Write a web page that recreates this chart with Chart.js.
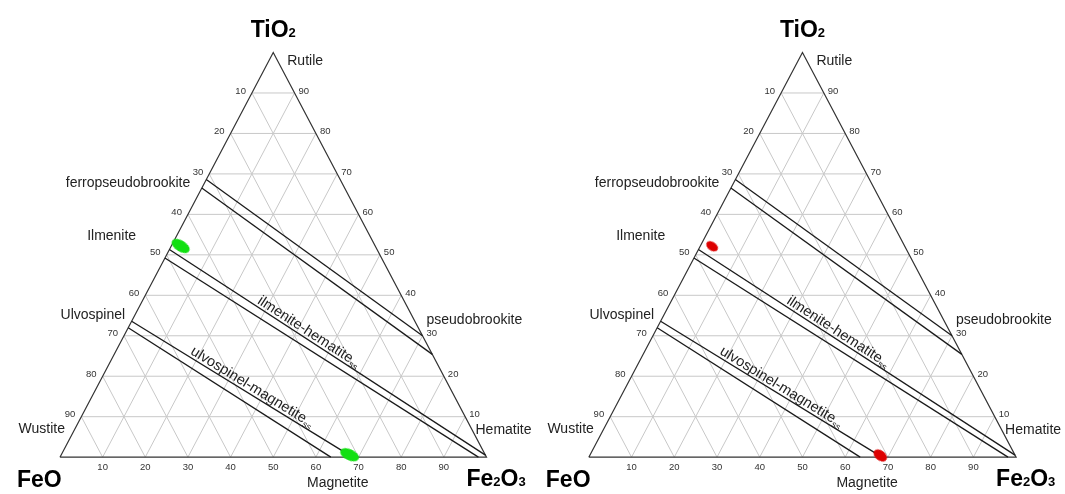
<!DOCTYPE html>
<html>
<head>
<meta charset="utf-8">
<title>FeO - Fe2O3 - TiO2</title>
<script src="https://cdn.jsdelivr.net/npm/chart.js@4.4.1/dist/chart.umd.min.js"></script>
<style>
  html, body { margin: 0; padding: 0; background: #fff; }
  #plots { position: relative; width: 1065px; height: 494px; overflow: hidden; }
  #plots canvas { position: absolute; top: 0; }
</style>
</head>
<body>
<div id="plots">
  <canvas id="leftPlot" width="545" height="494" style="left:0"></canvas>
  <canvas id="rightPlot" width="545" height="494" style="left:520px"></canvas>
</div>
<script>
const FONT = '"Liberation Sans", Arial, sans-serif';

// all compositions are [FeO, Fe2O3, TiO2] in wt%
const tickValues = [10, 20, 30, 40, 50, 60, 70, 80, 90];
const cornerNames = ['FeO', 'Fe2O3', 'TiO2'];

// solid-solution bands, each boundary runs between two edge compositions
const pseudobrookiteUpper = [[31.4, 0, 68.6], [0, 70.0, 30.0]];
const pseudobrookiteLower = [[33.5, 0, 66.5], [0, 74.6, 25.4]];
const ilmeniteUpper = [[48.7, 0, 51.3], [0, 99.5, 0.5]];
const ilmeniteLower = [[50.8, 0, 49.2], [1.9, 98.1, 0]];
const ulvospinelUpper = [[66.4, 0, 33.6], [31.4, 68.6, 0]];
const ulvospinelLower = [[68.0, 0, 32.0], [36.5, 63.5, 0]];

const mineralNames = ['Rutile', 'ferropseudobrookite', 'Ilmenite', 'Ulvospinel', 'Wustite', 'Magnetite', 'Hematite', 'pseudobrookite'];
const mineralComps = [[0, 0, 100], [31.4, 0, 68.6], [47.4, 0, 52.6], [64.3, 0, 35.7], [100, 0, 0], [31, 69, 0], [0, 100, 0], [0, 66.7, 33.3]];

// measured oxide grains (ilmenite, magnetite)
const leftSamples = [[45.6, 2.2, 52.2], [31.8, 67.6, 0.6]];
const rightSamples = [[45.1, 2.8, 52.1], [31.6, 68.0, 0.4]];

function toXY(c) {
  const sum = c[0] + c[1] + c[2];
  return { x: (c[1] + c[2] / 2) / sum, y: c[2] / sum };
}

// label placement relative to the mineral's composition: dx, dy, align
const mineralOffsets = {
  Rutile: [14, 12.5, 'left'],
  ferropseudobrookite: [-16, 7, 'right'],
  Ilmenite: [-36, -4, 'right'],
  Ulvospinel: [-11, 6.5, 'right'],
  Wustite: [5, -24.5, 'right'],
  Magnetite: [-16.5, 30, 'center'],
  Hematite: [-11, -23.5, 'left'],
  pseudobrookite: [11, 1.5, 'left']
};

function line(points, color, width, order) {
  return {
    data: points.map(toXY),
    showLine: true,
    borderColor: color,
    borderWidth: width,
    pointRadius: 0,
    fill: false,
    order: order
  };
}

function ellipseMarker(rx, ry, color) {
  const c = document.createElement('canvas');
  c.width = Math.ceil(rx * 2 + 2);
  c.height = Math.ceil(ry * 2 + 2);
  const g = c.getContext('2d');
  g.fillStyle = color;
  g.beginPath();
  g.ellipse(c.width / 2, c.height / 2, rx, ry, 0, 0, Math.PI * 2);
  g.fill();
  return c;
}

function drawFormula(ctx, text, x, y, align) {
  const parts = text.match(/[A-Za-z]+|\d+/g);
  const fontFor = s => /\d/.test(s) ? `bold 13px ${FONT}` : `bold 23px ${FONT}`;
  const widths = parts.map(s => { ctx.font = fontFor(s); return ctx.measureText(s).width; });
  const total = widths.reduce((a, b) => a + b, 0);
  let cx = align === 'center' ? x - total / 2 : x;
  ctx.textAlign = 'left';
  ctx.textBaseline = 'alphabetic';
  parts.forEach((s, i) => {
    ctx.font = fontFor(s);
    ctx.fillText(s, cx, y);
    cx += widths[i];
  });
}

function bandLabel(ctx, a, b, frac, text, sub) {
  const ang = Math.atan2(b.y - a.y, b.x - a.x);
  ctx.save();
  ctx.translate(a.x + (b.x - a.x) * frac, a.y + (b.y - a.y) * frac);
  ctx.rotate(ang);
  ctx.textAlign = 'left';
  ctx.textBaseline = 'alphabetic';
  ctx.font = `14.5px ${FONT}`;
  const w1 = ctx.measureText(text).width;
  ctx.font = `9px ${FONT}`;
  const w2 = ctx.measureText(sub).width;
  const start = -(w1 + w2) / 2;
  ctx.font = `14.5px ${FONT}`;
  ctx.fillText(text, start, -3);
  ctx.font = `9px ${FONT}`;
  ctx.fillText(sub, start + w1, 0);
  ctx.restore();
}

const labelPlugin = {
  id: 'ternaryLabels',
  afterDatasetsDraw(chart) {
    const ctx = chart.ctx;
    const px = c => {
      const p = toXY(c);
      return { x: chart.scales.x.getPixelForValue(p.x), y: chart.scales.y.getPixelForValue(p.y) };
    };
    ctx.save();

    // edge ticks: FeO on the left, TiO2 on the right, Fe2O3 along the base
    ctx.font = `9.5px ${FONT}`;
    ctx.fillStyle = '#333';
    ctx.textBaseline = 'middle';
    tickValues.forEach(v => {
      let p = px([v, 0, 100 - v]);
      ctx.textAlign = 'right';
      ctx.fillText(String(v), p.x - 6, p.y - 2);
      p = px([0, 100 - v, v]);
      ctx.textAlign = 'left';
      ctx.fillText(String(v), p.x + 4, p.y - 2);
      p = px([100 - v, v, 0]);
      ctx.textAlign = 'center';
      ctx.fillText(String(v), p.x, p.y + 10);
    });

    // end-member names
    ctx.font = `14px ${FONT}`;
    ctx.fillStyle = '#222';
    ctx.textBaseline = 'alphabetic';
    mineralNames.forEach((name, i) => {
      const p = px(mineralComps[i]);
      const [dx, dy, align] = mineralOffsets[name];
      ctx.textAlign = align;
      ctx.fillText(name, p.x + dx, p.y + dy);
    });

    bandLabel(ctx, px(ilmeniteUpper[0]), px(ilmeniteUpper[1]), 0.43, 'ilmenite-hematite', 'ss');
    bandLabel(ctx, px(ulvospinelUpper[0]), px(ulvospinelUpper[1]), 0.53, 'ulvospinel-magnetite', 'ss');

    // component names at the corners
    ctx.fillStyle = '#000';
    const feo = px([100, 0, 0]), fe2o3 = px([0, 100, 0]), tio2 = px([0, 0, 100]);
    drawFormula(ctx, cornerNames[0], feo.x - 43, feo.y + 29.5, 'left');
    drawFormula(ctx, cornerNames[1], fe2o3.x - 20, fe2o3.y + 29, 'left');
    drawFormula(ctx, cornerNames[2], tio2.x, tio2.y - 15.5, 'center');
    ctx.restore();
  }
};

function ternaryChart(id, frame, samples, color, shapes) {
  const W = 545, H = 494;
  const sx = frame.right - frame.left;
  const sy = frame.bottom - frame.top;

  const datasets = [];
  datasets.push({
    data: samples.map(toXY),
    pointStyle: shapes.map(s => ellipseMarker(s[0], s[1], color)),
    pointRotation: shapes.map(s => s[2]),
    order: 0
  });

  [pseudobrookiteUpper, pseudobrookiteLower, ilmeniteUpper, ilmeniteLower, ulvospinelUpper, ulvospinelLower]
    .forEach(b => datasets.push(line(b, '#1a1a1a', 1.3, 1)));

  datasets.push(line([[100, 0, 0], [0, 100, 0], [0, 0, 100], [100, 0, 0]], '#333', 1.2, 2));

  tickValues.forEach(v => {
    const w = 100 - v;
    datasets.push(line([[w, 0, v], [0, w, v]], '#c8c8c8', 1, 3));
    datasets.push(line([[w, v, 0], [0, v, w]], '#c8c8c8', 1, 3));
    datasets.push(line([[v, w, 0], [v, 0, w]], '#c8c8c8', 1, 3));
  });

  return new Chart(document.getElementById(id), {
    type: 'scatter',
    data: { datasets },
    options: {
      responsive: false,
      animation: false,
      events: [],
      layout: { padding: 0 },
      scales: {
        x: { type: 'linear', display: false, min: -frame.left / sx, max: (W - frame.left) / sx },
        y: { type: 'linear', display: false, min: (frame.bottom - H) / sy, max: frame.bottom / sy }
      },
      plugins: {
        legend: { display: false },
        tooltip: { enabled: false }
      }
    },
    plugins: [labelPlugin]
  });
}

ternaryChart('leftPlot', { left: 56, right: 490.5, top: 48.5, bottom: 461.5 },
  leftSamples, '#12e012', [[10, 5.5, 32], [10, 5.5, 25]]);
ternaryChart('rightPlot', { left: 65, right: 500.3, top: 48.5, bottom: 461.5 },
  rightSamples, '#dd0000', [[6.5, 4.2, 35], [7.5, 5, 38]]);
</script>
</body>
</html>
